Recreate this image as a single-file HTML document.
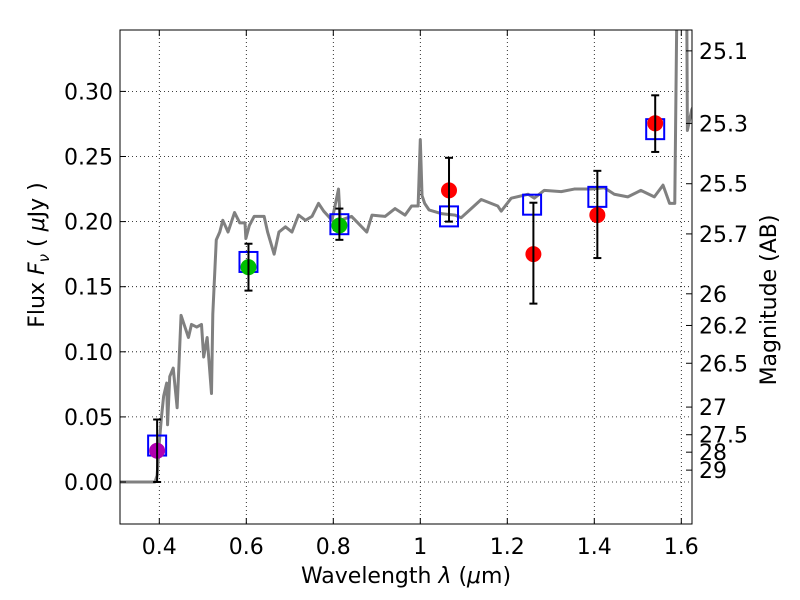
<!DOCTYPE html>
<html><head><meta charset="utf-8"><style>
body{margin:0;background:#fff}
svg{display:block;font-family:"DejaVu Sans","Liberation Sans",sans-serif}
</style></head><body>
<svg id="c" width="800" height="600" viewBox="0 0 800 600"></svg>
<script>
const xTicks=[0.4,0.6,0.8,1.0,1.2,1.4,1.6];
const xTickLabels=["0.4","0.6","0.8","1","1.2","1.4","1.6"];
const yTicks=[0,0.05,0.10,0.15,0.20,0.25,0.30];
const yTickLabels=["0.00","0.05","0.10","0.15","0.20","0.25","0.30"];
const magTicks=[25.1,25.3,25.5,25.7,26,26.2,26.5,27,27.5,28,29];
const specWl=[0.31,0.390,0.395,0.400,0.405,0.41,0.417,0.419,0.424,0.432,0.441,0.45,0.459,0.467,0.474,0.486,0.497,0.502,0.51,0.52,0.523,0.531,0.539,0.546,0.558,0.573,0.585,0.597,0.599,0.607,0.618,0.641,0.649,0.664,0.675,0.69,0.705,0.72,0.736,0.751,0.766,0.778,0.797,0.812,0.816,0.842,0.877,0.889,0.919,0.942,0.965,0.98,0.995,1.0,1.004,1.01,1.02,1.05,1.08,1.094,1.117,1.14,1.178,1.186,1.209,1.248,1.262,1.285,1.324,1.354,1.393,1.423,1.446,1.477,1.507,1.538,1.558,1.573,1.585,1.591,1.60,1.612,1.614,1.624,1.63];
const specFlux=[0,0,0.005,0.03,0.05,0.066,0.076,0.044,0.081,0.0875,0.057,0.128,0.119,0.111,0.121,0.119,0.121,0.096,0.111,0.068,0.129,0.186,0.192,0.201,0.192,0.207,0.199,0.199,0.187,0.197,0.204,0.204,0.192,0.175,0.192,0.196,0.192,0.205,0.201,0.204,0.214,0.208,0.201,0.225,0.201,0.204,0.192,0.205,0.204,0.210,0.205,0.212,0.212,0.263,0.22,0.214,0.209,0.206,0.205,0.203,0.210,0.217,0.212,0.208,0.218,0.221,0.218,0.224,0.223,0.225,0.225,0.226,0.221,0.219,0.224,0.219,0.228,0.214,0.214,0.40,0.50,0.40,0.27,0.286,0.29];
const obsWl=[0.395,0.605,0.814,1.066,1.26,1.407,1.54];
const obsFlux=[0.024,0.165,0.197,0.224,0.175,0.205,0.2755];
const errLo=[0.0,0.147,0.186,0.200,0.137,0.172,0.2535];
const errHi=[0.048,0.183,0.210,0.249,0.2145,0.239,0.297];
const obsColors=["#b000b0","#00c000","#00c000","#ff0000","#ff0000","#ff0000","#ff0000"];
const modelWl=[0.395,0.605,0.814,1.066,1.257,1.407,1.54];
const modelFlux=[0.028,0.169,0.198,0.204,0.213,0.219,0.271];

const L=120,R=692,T=30,B=524;
const X=v=>159.3+(v-0.4)*435;
const Y=v=>482-v*1302;
const NS="http://www.w3.org/2000/svg";
const svg=document.getElementById('c');
function mk(tag,attrs,parent){const e=document.createElementNS(NS,tag);for(const k in attrs)e.setAttribute(k,attrs[k]);(parent||svg).appendChild(e);return e;}
const defs=mk('defs',{});const cp=mk('clipPath',{id:'pc'},defs);mk('rect',{x:L,y:T,width:R-L,height:B-T},cp);

const grid=mk('g',{});


xTicks.forEach(v=>{mk('line',{x1:X(v),x2:X(v),y1:T,y2:B,stroke:'#000','stroke-width':0.8,'stroke-dasharray':'1,3'},grid);});
yTicks.forEach(v=>{mk('line',{x1:L,x2:R,y1:Y(v),y2:Y(v),stroke:'#000','stroke-width':0.8,'stroke-dasharray':'1,3'},grid);});

const sp=mk('polyline',{points:specWl.map((w,i)=>X(w)+','+Y(specFlux[i])).join(' '),fill:'none',stroke:'#808080','stroke-width':3,'stroke-linejoin':'round','clip-path':'url(#pc)'});



modelWl.forEach((w,i)=>{
  const r=mk('rect',{x:X(w)-9,y:Y(modelFlux[i])-10,width:18,height:20,fill:'none',stroke:'#0000ff','stroke-width':2});
  
  
});
obsWl.forEach((w,i)=>{
  const c=mk('circle',{cx:X(w),cy:Y(obsFlux[i]),r:8,fill:obsColors[i]});
  
  
  const g=mk('g',{stroke:'#000','stroke-width':2});
  
  
  mk('line',{x1:X(w),x2:X(w),y1:Y(errLo[i]),y2:Y(errHi[i])},g);
  mk('line',{x1:X(w)-4,x2:X(w)+4,y1:Y(errLo[i]),y2:Y(errLo[i])},g);
  mk('line',{x1:X(w)-4,x2:X(w)+4,y1:Y(errHi[i]),y2:Y(errHi[i])},g);
});

const ax=mk('g',{stroke:'#000','stroke-width':1});


mk('rect',{x:L,y:T,width:R-L,height:B-T,fill:'none'},ax);
xTicks.forEach((v,i)=>{
  mk('line',{x1:X(v),x2:X(v),y1:B,y2:B-6},ax);mk('line',{x1:X(v),x2:X(v),y1:T,y2:T+6},ax);
  const t=mk('text',{x:X(v),y:B+30,'text-anchor':'middle','font-size':22,stroke:'none',fill:'#000'});t.textContent=xTickLabels[i];
  
  
});
yTicks.forEach((v,i)=>{
  mk('line',{x1:L,x2:L+6,y1:Y(v),y2:Y(v)},ax);
  const t=mk('text',{x:L-7,y:Y(v)+8,'text-anchor':'end','font-size':22,stroke:'none',fill:'#000'});t.textContent=yTickLabels[i];
  
  
});
magTicks.forEach(m=>{
  const f=Math.pow(10,(23.9-m)/2.5);const y=Y(f);
  mk('line',{x1:R,x2:R-6,y1:y,y2:y},ax);
  const t=mk('text',{x:R+7,y:y+8,'font-size':22,stroke:'none',fill:'#000'});t.textContent=String(m);
  
  
});
</script>
<svg width="800" height="600" style="position:absolute;left:0;top:0;font-family:'DejaVu Sans',sans-serif">
<text x="406" y="583" text-anchor="middle" font-size="22">Wavelength  <tspan font-style="italic">λ</tspan> (<tspan font-style="italic">μ</tspan>m)</text>
<text transform="translate(44,255) rotate(-90)" text-anchor="middle" font-size="22">Flux  <tspan font-style="italic">F</tspan><tspan font-style="italic" font-size="15" dy="5">ν</tspan><tspan dy="-5">  ( </tspan><tspan font-style="italic">μ</tspan>Jy )</text>
<text transform="translate(776,300) rotate(-90)" text-anchor="middle" font-size="22">Magnitude (AB)</text>
</svg>
</body></html>
